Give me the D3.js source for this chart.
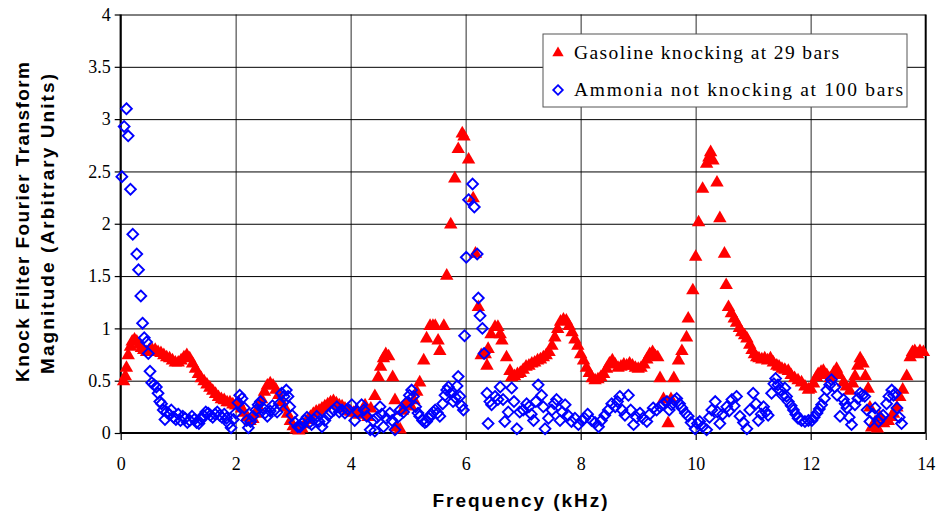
<!DOCTYPE html>
<html>
<head>
<meta charset="utf-8">
<script src="https://cdn.jsdelivr.net/npm/d3@7"></script>
<style>
  html, body { margin: 0; padding: 0; background: #fff; }
  svg { display: block; }
  .serif { font-family: "Liberation Serif", "Times New Roman", "DejaVu Serif", serif; }
  .sans { font-family: "Liberation Sans", Arial, "DejaVu Sans", sans-serif; font-weight: bold; }
</style>
</head>
<body>
<svg id="chart" width="940" height="517"></svg>
<script>
// Knock-filter FFT magnitude spectra (frequency in kHz, magnitude in arbitrary units)
const gasolineFreq = [0.05,0.08,0.10,0.13,0.17,0.20,0.24,0.28,0.32,0.36,0.40,0.45,0.50,0.55,0.60,0.65,0.70,0.75,0.80,0.85,0.90,0.95,1.00,1.05,1.10,1.15,1.20,1.25,1.30,1.35,1.40,1.45,1.50,1.55,1.60,1.65,1.70,1.75,1.80,1.85,1.90,1.95,2.00,2.05,2.10,2.15,2.20,2.25,2.30,2.35,2.40,2.45,2.50,2.55,2.60,2.65,2.70,2.75,2.80,2.85,2.90,2.95,3.00,3.05,3.10,3.15,3.20,3.25,3.30,3.35,3.40,3.45,3.50,3.55,3.60,3.65,3.70,3.75,3.80,3.85,3.90,3.95,4.00,4.05,4.10,4.15,4.20,4.25,4.30,4.35,4.42,4.48,4.52,4.57,4.61,4.66,4.73,4.77,4.80,4.86,4.90,4.95,5.00,5.05,5.10,5.15,5.20,5.27,5.32,5.38,5.43,5.47,5.52,5.55,5.62,5.67,5.74,5.81,5.87,5.94,5.97,6.05,6.13,6.17,6.22,6.27,6.34,6.37,6.39,6.44,6.51,6.56,6.60,6.63,6.71,6.77,6.80,6.85,6.90,6.95,7.00,7.05,7.10,7.15,7.20,7.25,7.30,7.35,7.40,7.45,7.50,7.55,7.60,7.65,7.70,7.75,7.80,7.85,7.90,7.95,8.00,8.05,8.10,8.15,8.20,8.25,8.30,8.35,8.40,8.45,8.50,8.55,8.60,8.65,8.70,8.75,8.80,8.85,8.90,8.95,9.00,9.05,9.10,9.15,9.20,9.25,9.30,9.34,9.38,9.44,9.52,9.57,9.62,9.70,9.76,9.84,9.87,9.95,10.00,10.05,10.12,10.19,10.23,10.26,10.30,10.37,10.42,10.50,10.53,10.57,10.62,10.67,10.71,10.76,10.80,10.85,10.89,10.94,10.98,11.02,11.06,11.10,11.15,11.20,11.25,11.30,11.35,11.41,11.45,11.50,11.55,11.61,11.66,11.72,11.78,11.84,11.90,11.96,12.00,12.05,12.10,12.13,12.18,12.22,12.28,12.34,12.40,12.45,12.50,12.57,12.62,12.68,12.73,12.77,12.82,12.86,12.91,12.95,13.00,13.03,13.06,13.12,13.16,13.20,13.27,13.35,13.40,13.44,13.50,13.55,13.60,13.67,13.73,13.77,13.81,13.86,13.90,13.96];
const gasolineMag = [0.50,0.55,0.63,0.75,0.83,0.88,0.90,0.88,0.85,0.82,0.80,0.78,0.80,0.80,0.80,0.78,0.77,0.75,0.73,0.72,0.70,0.68,0.68,0.70,0.73,0.75,0.72,0.67,0.62,0.57,0.53,0.50,0.47,0.44,0.41,0.38,0.35,0.33,0.32,0.30,0.30,0.28,0.27,0.30,0.24,0.20,0.16,0.12,0.14,0.19,0.25,0.33,0.40,0.46,0.48,0.46,0.42,0.37,0.30,0.25,0.19,0.12,0.07,0.04,0.03,0.05,0.09,0.13,0.16,0.19,0.21,0.22,0.24,0.26,0.28,0.30,0.31,0.29,0.27,0.26,0.24,0.22,0.21,0.20,0.22,0.18,0.22,0.27,0.16,0.24,0.36,0.54,0.64,0.72,0.76,0.74,0.54,0.32,0.06,0.04,0.22,0.28,0.30,0.26,0.32,0.40,0.49,0.70,0.91,1.03,1.03,1.03,0.89,0.79,1.03,1.51,2.00,2.44,2.72,2.87,2.84,2.62,2.25,1.72,1.21,0.75,0.76,0.65,0.81,0.95,1.02,1.02,0.95,0.89,0.73,0.60,0.54,0.55,0.57,0.58,0.61,0.64,0.65,0.67,0.68,0.70,0.71,0.73,0.75,0.78,0.84,0.92,1.00,1.07,1.09,1.08,1.03,0.97,0.90,0.84,0.76,0.70,0.63,0.58,0.53,0.51,0.52,0.54,0.57,0.62,0.67,0.70,0.66,0.63,0.64,0.66,0.65,0.67,0.65,0.63,0.62,0.63,0.66,0.71,0.76,0.78,0.74,0.73,0.53,0.33,0.10,0.33,0.53,0.70,0.79,0.92,1.10,1.37,1.69,2.02,2.34,2.58,2.64,2.69,2.61,2.40,2.06,1.72,1.42,1.21,1.15,1.10,1.06,1.01,0.97,0.94,0.91,0.85,0.80,0.76,0.73,0.72,0.71,0.72,0.70,0.72,0.68,0.65,0.64,0.62,0.61,0.60,0.56,0.53,0.51,0.49,0.45,0.42,0.43,0.48,0.54,0.57,0.59,0.60,0.56,0.53,0.58,0.62,0.56,0.49,0.45,0.41,0.48,0.55,0.65,0.72,0.67,0.55,0.43,0.25,0.06,0.11,0.05,0.16,0.10,0.12,0.16,0.19,0.25,0.35,0.42,0.55,0.73,0.78,0.79,0.76,0.79,0.78];

const ammoniaFreq = [0.02,0.06,0.10,0.13,0.17,0.21,0.28,0.31,0.35,0.38,0.41,0.45,0.48,0.51,0.54,0.58,0.62,0.65,0.68,0.71,0.74,0.77,0.80,0.84,0.88,0.92,0.96,1.00,1.04,1.08,1.12,1.16,1.20,1.24,1.28,1.32,1.36,1.40,1.44,1.48,1.52,1.56,1.60,1.64,1.68,1.72,1.76,1.80,1.84,1.88,1.92,1.96,2.00,2.04,2.07,2.11,2.15,2.19,2.22,2.26,2.30,2.35,2.39,2.43,2.47,2.51,2.55,2.60,2.64,2.68,2.72,2.76,2.80,2.84,2.88,2.91,2.94,2.98,3.03,3.08,3.12,3.16,3.20,3.24,3.28,3.32,3.36,3.41,3.45,3.50,3.55,3.61,3.66,3.71,3.76,3.80,3.85,3.90,3.95,4.02,4.07,4.12,4.19,4.23,4.28,4.34,4.39,4.42,4.46,4.51,4.54,4.57,4.62,4.68,4.72,4.77,4.82,4.86,4.92,4.97,5.02,5.06,5.09,5.13,5.17,5.20,5.25,5.29,5.32,5.36,5.40,5.44,5.47,5.51,5.55,5.60,5.64,5.67,5.70,5.74,5.78,5.82,5.85,5.87,5.90,5.93,5.96,5.98,6.01,6.05,6.12,6.15,6.20,6.22,6.25,6.29,6.32,6.37,6.39,6.42,6.45,6.51,6.56,6.60,6.65,6.68,6.74,6.80,6.84,6.89,6.94,7.00,7.06,7.10,7.14,7.18,7.22,7.26,7.32,7.35,7.38,7.44,7.50,7.54,7.58,7.64,7.68,7.73,7.78,7.84,7.90,7.96,8.02,8.07,8.12,8.19,8.25,8.31,8.36,8.42,8.48,8.54,8.60,8.64,8.68,8.72,8.77,8.83,8.87,8.92,8.97,9.03,9.08,9.15,9.20,9.26,9.32,9.38,9.44,9.50,9.54,9.58,9.63,9.67,9.72,9.76,9.82,9.87,9.92,9.99,10.03,10.07,10.12,10.19,10.24,10.28,10.34,10.38,10.42,10.47,10.54,10.58,10.63,10.67,10.71,10.77,10.83,10.89,10.94,11.00,11.05,11.09,11.14,11.18,11.22,11.26,11.32,11.36,11.39,11.43,11.47,11.51,11.55,11.58,11.61,11.66,11.70,11.74,11.78,11.84,11.90,11.96,12.02,12.06,12.11,12.15,12.19,12.24,12.28,12.33,12.36,12.42,12.46,12.51,12.57,12.60,12.63,12.67,12.71,12.77,12.82,12.86,12.90,12.94,12.98,13.03,13.08,13.12,13.18,13.22,13.26,13.32,13.36,13.41,13.44,13.47,13.50,13.54,13.58];
const ammoniaMag = [2.45,2.93,3.10,2.84,2.33,1.90,1.71,1.56,1.31,1.05,0.91,0.87,0.76,0.59,0.48,0.46,0.44,0.38,0.30,0.28,0.22,0.13,0.20,0.18,0.22,0.15,0.13,0.18,0.12,0.16,0.14,0.10,0.12,0.16,0.13,0.10,0.09,0.13,0.17,0.20,0.19,0.17,0.15,0.18,0.20,0.17,0.15,0.18,0.14,0.09,0.05,0.13,0.19,0.29,0.36,0.33,0.24,0.12,0.05,0.11,0.16,0.22,0.27,0.30,0.24,0.19,0.16,0.21,0.26,0.22,0.20,0.28,0.38,0.35,0.41,0.35,0.25,0.17,0.10,0.06,0.06,0.09,0.12,0.15,0.10,0.08,0.13,0.16,0.11,0.06,0.12,0.17,0.20,0.22,0.25,0.20,0.22,0.19,0.23,0.27,0.12,0.20,0.27,0.22,0.16,0.03,0.12,0.02,0.15,0.25,0.18,0.06,0.14,0.19,0.12,0.03,0.15,0.22,0.20,0.29,0.36,0.41,0.35,0.25,0.19,0.16,0.12,0.10,0.11,0.14,0.18,0.20,0.22,0.19,0.16,0.28,0.36,0.41,0.44,0.38,0.30,0.34,0.45,0.54,0.35,0.26,0.22,0.93,1.68,2.23,2.38,2.16,1.71,1.29,1.12,1.00,0.76,0.38,0.09,0.30,0.27,0.35,0.32,0.44,0.32,0.11,0.20,0.43,0.30,0.04,0.20,0.22,0.28,0.25,0.18,0.12,0.30,0.46,0.36,0.25,0.04,0.14,0.22,0.28,0.32,0.12,0.20,0.27,0.17,0.11,0.14,0.08,0.12,0.14,0.18,0.12,0.10,0.06,0.12,0.17,0.22,0.28,0.25,0.30,0.35,0.22,0.17,0.36,0.22,0.08,0.15,0.19,0.14,0.11,0.18,0.24,0.22,0.25,0.28,0.30,0.22,0.27,0.31,0.33,0.28,0.24,0.19,0.16,0.10,0.04,0.09,0.11,0.06,0.03,0.15,0.22,0.30,0.20,0.09,0.18,0.25,0.21,0.32,0.26,0.35,0.16,0.10,0.04,0.22,0.38,0.28,0.12,0.18,0.25,0.20,0.17,0.38,0.47,0.52,0.46,0.41,0.36,0.43,0.35,0.30,0.26,0.22,0.18,0.14,0.12,0.11,0.12,0.12,0.15,0.19,0.23,0.27,0.33,0.41,0.46,0.51,0.44,0.36,0.16,0.32,0.28,0.24,0.15,0.08,0.27,0.33,0.38,0.36,0.35,0.22,0.11,0.18,0.24,0.11,0.14,0.17,0.28,0.35,0.41,0.36,0.38,0.24,0.15,0.09];

const xTicks = [0, 2, 4, 6, 8, 10, 12, 14];
const yTicks = [0, 0.5, 1, 1.5, 2, 2.5, 3, 3.5, 4];
const seriesNames = ["Gasoline knocking at 29 bars", "Ammonia not knocking at 100 bars"];

const svg = d3.select("#chart");
const plot = { left: 120.7, right: 925.7, top: 14.5, bottom: 433 };

const x = d3.scaleLinear().domain([0, 14]).range([plot.left, plot.right]);
const y = d3.scaleLinear().domain([0, 4]).range([plot.bottom, plot.top]);

// vertical grid (grey)
svg.append("g")
  .attr("transform", `translate(0,${plot.bottom})`)
  .call(d3.axisBottom(x).tickValues(xTicks.slice(1, -1)).tickSize(-(plot.bottom - plot.top)).tickFormat(""))
  .call(g => g.select(".domain").remove())
  .call(g => g.selectAll("line").attr("stroke", "#7a7a7a").attr("stroke-width", 1.6));

// horizontal grid (black)
svg.append("g")
  .attr("transform", `translate(${plot.left},0)`)
  .call(d3.axisRight(y).tickValues(yTicks.slice(1)).tickSize(plot.right - plot.left).tickFormat(""))
  .call(g => g.select(".domain").remove())
  .call(g => g.selectAll("line").attr("stroke", "#000").attr("stroke-width", 1));

// right border
svg.append("line")
  .attr("x1", plot.right).attr("x2", plot.right)
  .attr("y1", plot.top).attr("y2", plot.bottom)
  .attr("stroke", "#000").attr("stroke-width", 2);

// axes
const yAxis = svg.append("g")
  .attr("transform", `translate(${plot.left},0)`)
  .call(d3.axisLeft(y).tickValues(yTicks).tickSize(6).tickPadding(4).tickFormat(d3.format("~g")));
yAxis.attr("font-family", null).attr("font-size", null);
yAxis.select(".domain").attr("stroke", "#000").attr("stroke-width", 2.2).attr("d", `M0,${plot.top}V${plot.bottom}`);
yAxis.selectAll(".tick line").attr("stroke", "#000").attr("stroke-width", 1.2);
yAxis.selectAll("text").attr("class", "serif").style("font-size", "18px").attr("fill", "#000");

const xAxis = svg.append("g")
  .attr("transform", `translate(0,${plot.bottom})`)
  .call(d3.axisBottom(x).tickValues(xTicks).tickSize(7).tickPadding(17).tickFormat(d3.format("d")));
xAxis.attr("font-family", null).attr("font-size", null);
xAxis.select(".domain").attr("stroke", "#000").attr("stroke-width", 2.2).attr("d", `M${plot.left},0H${plot.right}`);
xAxis.selectAll(".tick line").attr("stroke", "#000").attr("stroke-width", 1.2);
xAxis.selectAll("text").attr("class", "serif").style("font-size", "18px").attr("fill", "#000");

// markers
const tri = d3.symbol().type(d3.symbolTriangle).size(78);
const gasoline = gasolineFreq.map((f, i) => ({ f, m: gasolineMag[i] }));
const ammonia = ammoniaFreq.map((f, i) => ({ f, m: ammoniaMag[i] }));

svg.append("g").selectAll("path")
  .data(gasoline).join("path")
  .attr("d", tri)
  .attr("transform", d => `translate(${x(d.f)},${y(d.m) + 0.8})`)
  .attr("fill", "#ff0000");

const dia = 5.4;
svg.append("g").selectAll("path")
  .data(ammonia).join("path")
  .attr("d", `M0,${-dia}L${dia},0L0,${dia}L${-dia},0Z`)
  .attr("transform", d => `translate(${x(d.f)},${y(d.m)})`)
  .attr("fill", "none")
  .attr("stroke", "#0000ff")
  .attr("stroke-width", 1.9);

// legend
const legend = svg.append("g").attr("transform", "translate(543,34)");
legend.append("rect").attr("width", 364).attr("height", 73)
  .attr("fill", "#fff").attr("stroke", "#555").attr("stroke-width", 1);
legend.append("path").attr("d", d3.symbol().type(d3.symbolTriangle).size(56))
  .attr("transform", "translate(15,19)").attr("fill", "#ff0000");
legend.append("path").attr("d", `M0,-4.8L4.8,0L0,4.8L-4.8,0Z`)
  .attr("transform", "translate(15,56)").attr("fill", "none").attr("stroke", "#0000ff").attr("stroke-width", 1.8);
legend.append("text").text(seriesNames[0]).attr("class", "serif")
  .attr("x", 31).attr("y", 25).style("font-size", "19.5px")
  .attr("textLength", 265).attr("lengthAdjust", "spacing");
legend.append("text").text(seriesNames[1]).attr("class", "serif")
  .attr("x", 31).attr("y", 62).style("font-size", "19.5px")
  .attr("textLength", 329).attr("lengthAdjust", "spacing");

// axis titles
svg.append("text").text("Frequency (kHz)").attr("class", "sans")
  .attr("x", 520).attr("y", 507).attr("text-anchor", "middle")
  .style("font-size", "19px")
  .attr("textLength", 175).attr("lengthAdjust", "spacing");

const yTitle = svg.append("g").attr("transform", "translate(0,222) rotate(-90)");
yTitle.append("text").text("Knock Filter Fourier Transform").attr("class", "sans")
  .attr("x", 0).attr("y", 29).attr("text-anchor", "middle")
  .style("font-size", "19px")
  .attr("textLength", 320).attr("lengthAdjust", "spacing");
yTitle.append("text").text("Magnitude (Arbitrary Units)").attr("class", "sans")
  .attr("x", -2).attr("y", 54).attr("text-anchor", "middle")
  .style("font-size", "19px")
  .attr("textLength", 300).attr("lengthAdjust", "spacing");
</script>
</body>
</html>
